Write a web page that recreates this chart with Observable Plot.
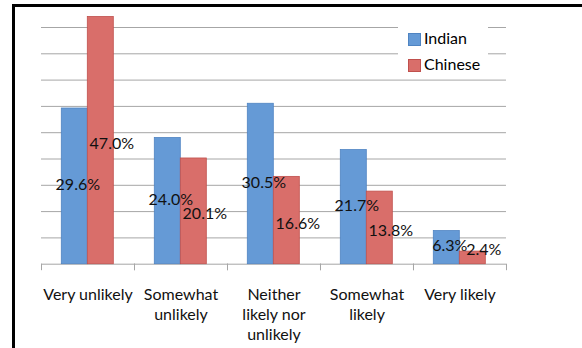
<!DOCTYPE html>
<html>
<head>
<meta charset="utf-8">
<script src="https://cdn.jsdelivr.net/npm/d3@7"></script>
<script src="https://cdn.jsdelivr.net/npm/@observablehq/plot@0.6"></script>
<style>
  body { margin: 0; background: #fff; }
  #wrap { position: relative; width: 582px; height: 348px; overflow: hidden; font-family: Lato, "Open Sans", sans-serif; }
  #wrap svg { position: absolute; left: 0; top: 0; }
  #border { position: absolute; left: 12px; top: 4px; width: 600px; height: 400px; border-left: 3px solid #000; border-top: 3px solid #000; pointer-events: none; }
  #legend { position: absolute; left: 398px; top: 22px; width: 90px; height: 56px; background: #fff; }
  .item { position: absolute; left: 10px; height: 20px; font-size: 16px; color: #000; white-space: nowrap; }
  .sw { position: absolute; left: 0; top: 5px; width: 11px; height: 11px; }
  .lab { position: absolute; left: 16px; top: 0; line-height: 20px; }
</style>
</head>
<body>
<div id="wrap">
  <div id="chart"></div>
  <div id="legend"></div>
  <div id="border"></div>
</div>
<script>
const categories = ["Very unlikely", "Somewhat unlikely", "Neither likely nor unlikely", "Somewhat likely", "Very likely"];
const tickLabels = ["Very unlikely", "Somewhat\nunlikely", "Neither\nlikely nor\nunlikely", "Somewhat\nlikely", "Very likely"];
const series = ["Indian", "Chinese"];
const indian = [29.6, 24.0, 30.5, 21.7, 6.3];
const chinese = [47.0, 20.1, 16.6, 13.8, 2.4];
const gridTicks = [5, 10, 15, 20, 25, 30, 35, 40, 45];
const colors = ["#659ad6", "#d96e6a"];
const strokes = ["#4f84c2", "#c0504d"];

const values = { Indian: indian, Chinese: chinese };
const data = categories.flatMap((c, i) => series.map(s => ({ category: c, series: s, value: values[s][i] })));
const minLabelLevel = 3.2; // labels of very short bars sit just above this level

const labelMark = (s, dx, dy) => Plot.text(data.filter(d => d.series === s), {
  fx: "category", x: "series", y: d => Math.max(d.value / 2, minLabelLevel),
  text: d => d.value.toFixed(1) + "%",
  dx, dy, fill: "#111", fontSize: 16
});

const chart = Plot.plot({
  width: 582,
  height: 348,
  marginLeft: 38.7,
  marginRight: 74.3,
  marginTop: 0.7,
  marginBottom: 84.3,
  style: { fontFamily: "Lato, 'Open Sans', sans-serif", fontSize: "16px", background: "transparent", color: "#000", overflow: "visible" },
  fx: { domain: categories, padding: 0, label: null },
  x: { domain: series, paddingInner: 0, paddingOuter: 0.76, axis: null },
  y: { domain: [0, 50], axis: null },
  color: { domain: series, range: colors },
  marks: [
    Plot.gridY(gridTicks, { stroke: "#a6a6a6", strokeOpacity: 1 }),
    Plot.ruleY([0], { stroke: "#a6a6a6" }),
    Plot.frame({ anchor: "left", stroke: "#a6a6a6", insetTop: 263, insetBottom: -5.5 }),
    Plot.frame({ anchor: "right", stroke: "#a6a6a6", insetTop: 263, insetBottom: -5.5 }),
    Plot.barY(data, {
      fx: "category", x: "series", y: "value", fill: "series",
      stroke: d => strokes[series.indexOf(d.series)], strokeWidth: 0.8
    }),
    labelMark("Indian", 3, -1),
    labelMark("Chinese", 11, 3),
    Plot.axisFx({
      anchor: "bottom", tickSize: 0, tickPadding: 22, lineHeight: 1.25,
      tickFormat: d => tickLabels[categories.indexOf(d)], label: null, fill: "#111", fontSize: 16
    })
  ]
});
document.getElementById("chart").appendChild(chart);

const legend = document.getElementById("legend");
series.forEach((s, i) => {
  const item = document.createElement("div");
  item.className = "item";
  item.style.top = (6 + i * 26) + "px";
  const sw = document.createElement("div");
  sw.className = "sw";
  sw.style.background = colors[i];
  sw.style.border = "0.5px solid " + strokes[i];
  const lab = document.createElement("div");
  lab.className = "lab";
  lab.textContent = s;
  item.appendChild(sw);
  item.appendChild(lab);
  legend.appendChild(item);
});
</script>
</body>
</html>
